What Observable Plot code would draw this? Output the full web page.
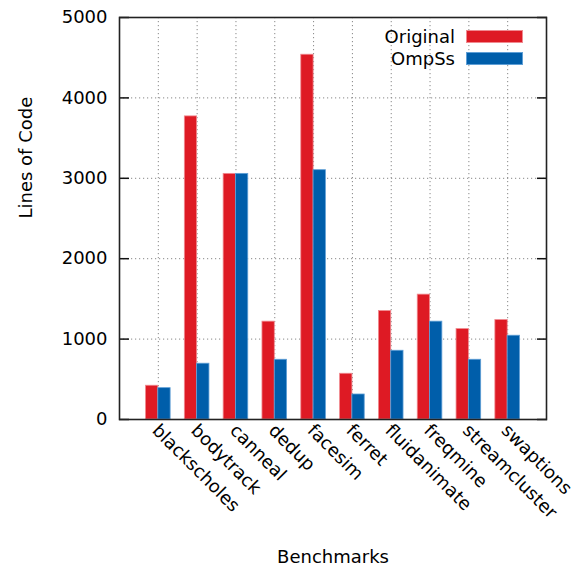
<!DOCTYPE html>
<html>
<head>
<meta charset="utf-8">
<script src="https://cdn.jsdelivr.net/npm/d3@7"></script>
<script src="https://cdn.jsdelivr.net/npm/@observablehq/plot@0.6"></script>
<style>
  body { margin: 0; background: #fff; }
  #chart { position: relative; width: 577px; height: 568px; font-family: "DejaVu Sans", sans-serif; }
  #chart svg { display: block; overflow: visible; }
  .legend { position: absolute; right: 54px; top: 26px; font-size: 18px; color: #000; }
  .legend .row { display: flex; align-items: center; justify-content: flex-end; height: 21.5px; }
  .legend .sw { width: 57px; height: 13px; margin-left: 11px; box-sizing: border-box; }
</style>
</head>
<body>
<div id="chart"></div>
<script>
const benchmarks = ["blackscholes", "bodytrack", "canneal", "dedup", "facesim", "ferret", "fluidanimate", "freqmine", "streamcluster", "swaptions"];
const original = [420, 3770, 3055, 1217, 4537, 569, 1349, 1553, 1125, 1237];
const ompss = [390, 694, 3055, 743, 3101, 311, 855, 1217, 743, 1042];
const seriesNames = ["Original", "OmpSs"];
const seriesColors = ["#de1a24", "#005eaa"];
const seriesStrokes = ["#f08a90", "#5f9fd6"];
const yTicks = [0, 1000, 2000, 3000, 4000, 5000];
const gridTicks = [1000, 2000, 3000, 4000];
const xTitle = "Benchmarks";
const yTitle = "Lines of Code";

const rows = benchmarks.flatMap((b, i) => [
  {benchmark: b, series: seriesNames[0], value: original[i]},
  {benchmark: b, series: seriesNames[1], value: ompss[i]}
]);

const font = "DejaVu Sans, sans-serif";
const gridStyle = {stroke: "#888", strokeOpacity: 1, strokeWidth: 1, strokeDasharray: "1.2,2.8"};

const plot = Plot.plot({
  width: 577,
  height: 568,
  marginTop: 17,
  marginRight: 31,
  marginBottom: 149,
  marginLeft: 119,
  style: {fontFamily: font, fontSize: "18px", color: "#000", background: "#fff"},
  x: {domain: benchmarks, paddingInner: 0, paddingOuter: 0.5, round: false},
  y: {domain: [0, 5000]},
  marks: [
    Plot.gridX({...gridStyle}),
    Plot.gridY({ticks: gridTicks, ...gridStyle}),
    Plot.barY(rows.filter(d => d.series === seriesNames[0]), {
      x: "benchmark", y: "value", fill: seriesColors[0], stroke: seriesStrokes[0], strokeWidth: 0.8,
      insetLeft: 7.1, insetRight: 19.4
    }),
    Plot.barY(rows.filter(d => d.series === seriesNames[1]), {
      x: "benchmark", y: "value", fill: seriesColors[1], stroke: seriesStrokes[1], strokeWidth: 0.8,
      insetLeft: 19.4, insetRight: 7.1
    }),
    Plot.axisY({ticks: yTicks, anchor: "left", tickSize: 10, dx: 10, text: null, label: null, stroke: "#111", strokeWidth: 1.5}),
    Plot.axisY({ticks: yTicks, anchor: "right", tickSize: 10, dx: -10, text: null, label: null, stroke: "#111", strokeWidth: 1.5}),
    Plot.axisY({ticks: yTicks, anchor: "left", tickSize: 0, tickPadding: 12, label: null, fontSize: 18, fill: "#000", tickFormat: d => String(d)}),
    Plot.axisX({anchor: "bottom", tickSize: 0, tickPadding: 8, tickRotate: 45, dx: -3, label: null, fontSize: 18, fill: "#000"}),
    Plot.frame({stroke: "#222", strokeWidth: 1.6}),
    Plot.text([yTitle], {frameAnchor: "left", rotate: -90, dx: -93, fontSize: 18, fill: "#000", text: d => d}),
    Plot.text([xTitle], {frameAnchor: "bottom", dy: 143, fontSize: 18, fill: "#000", text: d => d})
  ]
});

const chart = document.getElementById("chart");
chart.appendChild(plot);

const legend = document.createElement("div");
legend.className = "legend";
seriesNames.forEach((name, i) => {
  const row = document.createElement("div");
  row.className = "row";
  const label = document.createElement("span");
  label.textContent = name;
  const sw = document.createElement("span");
  sw.className = "sw";
  sw.style.background = seriesColors[i];
  sw.style.border = "1px solid " + seriesStrokes[i];
  row.appendChild(label);
  row.appendChild(sw);
  legend.appendChild(row);
});
chart.appendChild(legend);
</script>
</body>
</html>
